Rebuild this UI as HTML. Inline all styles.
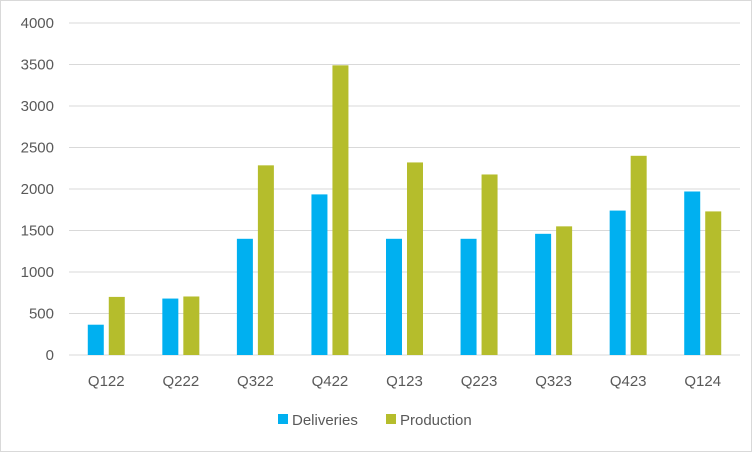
<!DOCTYPE html>
<html><head><meta charset="utf-8"><style>
body{margin:0;background:#fff;}
svg{display:block;font-family:"Liberation Sans",sans-serif;}
</style></head><body>
<svg id="chart" width="752" height="452">
<rect x="0.5" y="0.5" width="751" height="451" fill="#fff" stroke="#d9d9d9"/>
<g id="grid"></g><g id="bars"></g><g id="labels"></g>
<g>
<rect x="278" y="414" width="10" height="10" fill="#00b0f0"/>
<text x="292" y="425" font-size="15" fill="#595959">Deliveries</text>
<rect x="386" y="414" width="10" height="10" fill="#b5bd2c"/>
<text x="400" y="425" font-size="15" fill="#595959">Production</text>
</g>
</svg>
<script>
const categories=["Q122","Q222","Q322","Q422","Q123","Q223","Q323","Q423","Q124"];
const deliveries=[365,680,1400,1935,1400,1400,1460,1740,1970];
const production=[700,705,2285,3490,2320,2175,1550,2400,1730];
const yTicks=[0,500,1000,1500,2000,2500,3000,3500,4000];
const NS="http://www.w3.org/2000/svg";
const x0=69,x1=740,y0=355,y1=23,maxV=4000;
const y=v=>y0-(v/maxV)*(y0-y1);
const step=(x1-x0)/categories.length;
const xc=i=>x0+step*(i+0.5);
function mk(t,a,p){const e=document.createElementNS(NS,t);for(const k in a)e.setAttribute(k,a[k]);p.appendChild(e);return e;}
const grid=document.getElementById('grid'),bars=document.getElementById('bars'),labels=document.getElementById('labels');
yTicks.forEach(v=>{
 const l=mk('line',{x1:x0,x2:x1,y1:y(v),y2:y(v),stroke:'#d9d9d9','stroke-width':1},grid);
 
 
 const t=mk('text',{x:54,y:y(v)+5,'text-anchor':'end','font-size':15,fill:'#595959'},labels);
 t.textContent=v;
 
 
});
const bw=16,gap=5;
categories.forEach((c,i)=>{
 const cx=xc(i);
 const b1=mk('rect',{x:cx-gap/2-bw,y:y(deliveries[i]),width:bw,height:y0-y(deliveries[i]),fill:'#00b0f0'},bars);
 
 
 const b2=mk('rect',{x:cx+gap/2,y:y(production[i]),width:bw,height:y0-y(production[i]),fill:'#b5bd2c'},bars);
 
 
 const t=mk('text',{x:cx,y:386,'text-anchor':'middle','font-size':15,fill:'#595959'},labels);
 t.textContent=c;
 
 
});
</script>
</body></html>
